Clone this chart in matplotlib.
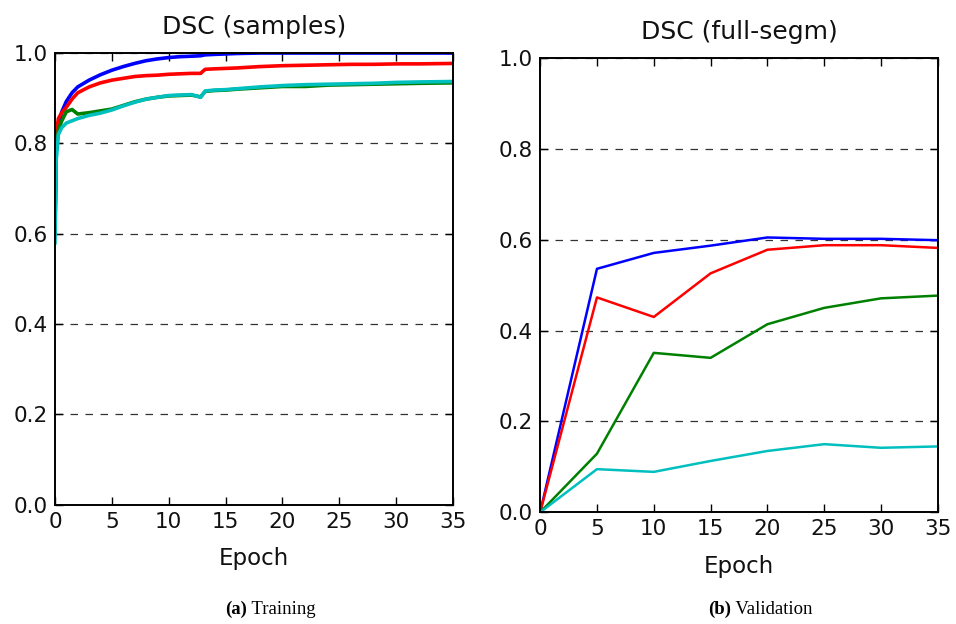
import matplotlib
matplotlib.use("Agg")
import matplotlib.pyplot as plt

# ---- data ----
train_epochs = [0, 0.1, 0.3, 0.6, 1, 1.5, 2, 3, 4, 5, 6, 7, 8, 9, 10, 11, 12, 12.8, 13.2,
                14, 15, 16, 18, 20, 22, 24, 26, 28, 30, 32, 35]
train_blue = [0.60, 0.80, 0.84, 0.87, 0.893, 0.912, 0.925, 0.94, 0.952, 0.962, 0.970, 0.977,
              0.983, 0.987, 0.990, 0.992, 0.993, 0.994, 0.996, 0.997, 0.998, 0.999, 1.0, 1.0,
              1.0, 1.0, 1.0, 1.0, 1.0, 1.0, 1.0]
train_red = [0.62, 0.82, 0.855, 0.868, 0.88, 0.898, 0.912, 0.925, 0.934, 0.940, 0.944, 0.948,
             0.950, 0.951, 0.953, 0.954, 0.955, 0.955, 0.964, 0.965, 0.966, 0.967, 0.970, 0.972,
             0.973, 0.974, 0.975, 0.975, 0.976, 0.976, 0.977]
train_green = [0.60, 0.78, 0.83, 0.85, 0.87, 0.875, 0.865, 0.868, 0.872, 0.876, 0.884, 0.892,
               0.898, 0.902, 0.905, 0.906, 0.907, 0.903, 0.915, 0.917, 0.918, 0.920, 0.923, 0.926,
               0.926, 0.929, 0.930, 0.931, 0.932, 0.933, 0.934]
train_cyan = [0.58, 0.76, 0.82, 0.835, 0.845, 0.85, 0.855, 0.862, 0.867, 0.874, 0.883, 0.891,
              0.898, 0.902, 0.906, 0.907, 0.908, 0.902, 0.916, 0.918, 0.919, 0.921, 0.925, 0.928,
              0.930, 0.931, 0.932, 0.933, 0.935, 0.936, 0.937]

val_epochs = [0, 5, 10, 15, 20, 25, 30, 35]
val_blue = [0.0, 0.536, 0.571, 0.587, 0.605, 0.602, 0.602, 0.599]
val_red = [0.0, 0.473, 0.430, 0.526, 0.578, 0.588, 0.588, 0.582]
val_green = [0.0, 0.129, 0.351, 0.340, 0.414, 0.450, 0.471, 0.477]
val_cyan = [0.0, 0.095, 0.089, 0.113, 0.135, 0.150, 0.142, 0.145]

xticks = [0, 5, 10, 15, 20, 25, 30, 35]
yticks = [0.0, 0.2, 0.4, 0.6, 0.8, 1.0]
colors = {"blue": (0, 0, 1), "red": (1, 0, 0), "green": (0, 0.5, 0), "cyan": (0, 0.75, 0.75)}

plt.rcParams['font.family'] = ['DejaVu Sans']

fig = plt.figure(figsize=(9.56, 6.24), dpi=100)
ax1 = fig.add_axes([0.0575, 0.191, 0.4165, 0.724])
ax2 = fig.add_axes([0.565, 0.179, 0.416, 0.728])


def style(ax, title):
    ax.set_xlim(0, 35)
    ax.set_ylim(0, 1.0)
    ax.set_xticks(xticks)
    ax.set_yticks(yticks)
    ax.set_yticklabels([f"{t:.1f}" for t in yticks])
    ax.tick_params(direction='in', top=True, right=True, length=6, width=1,
                   labelsize=15.5, pad=5, labelcolor='#111111')
    for s in ax.spines.values():
        s.set_linewidth(1.4)
    ax.yaxis.grid(True, linestyle=(0, (6, 6)), color='#333333', linewidth=0.9)
    ax.set_axisbelow(True)
    ax.set_title(title, fontsize=18, pad=14, color='#111111')
    ax.set_xlabel("Epoch", fontsize=16.5, labelpad=11, color='#111111')


lw_t = 2.6
ax1.plot(train_epochs, train_blue, color=colors["blue"], lw=lw_t)
ax1.plot(train_epochs, train_red, color=colors["red"], lw=lw_t)
ax1.plot(train_epochs, train_green, color=colors["green"], lw=lw_t)
ax1.plot(train_epochs, train_cyan, color=colors["cyan"], lw=lw_t)
style(ax1, "DSC (samples)")

lw_v = 1.8
ax2.plot(val_epochs, val_blue, color=colors["blue"], lw=lw_v)
ax2.plot(val_epochs, val_red, color=colors["red"], lw=lw_v)
ax2.plot(val_epochs, val_green, color=colors["green"], lw=lw_v)
ax2.plot(val_epochs, val_cyan, color=colors["cyan"], lw=lw_v)
style(ax2, "DSC (full-segm)")

serif = ['Liberation Serif', 'DejaVu Serif']
for xc, lab, rest in [(0.258, "(a)", " Training"), (0.765, "(b)", " Validation")]:
    fig.text(xc, 0.016, lab, fontsize=13.5, fontweight='bold', family=serif,
             ha='right', va='baseline')
    fig.text(xc, 0.016, rest, fontsize=13.5, family=serif, ha='left', va='baseline')

fig.savefig("out.png", dpi=100)
